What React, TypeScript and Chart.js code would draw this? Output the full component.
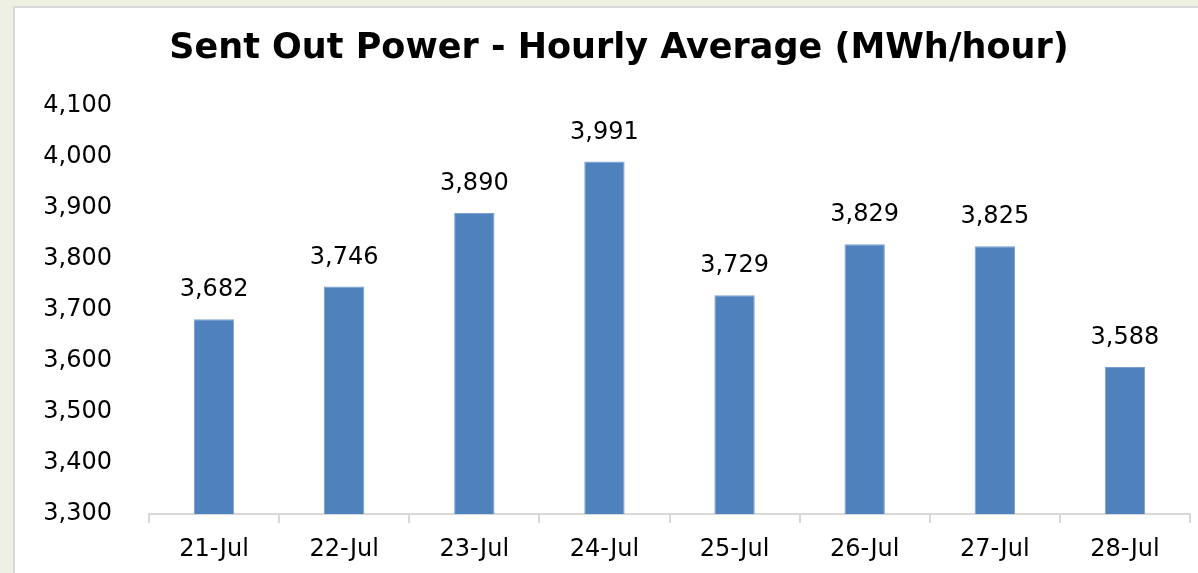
import React, { useEffect, useRef } from "react";
import { Chart, registerables } from "chart.js";

Chart.register(...registerables);

const categories = ["21-Jul", "22-Jul", "23-Jul", "24-Jul", "25-Jul", "26-Jul", "27-Jul", "28-Jul"];
const values = [3682, 3746, 3890, 3991, 3729, 3829, 3825, 3588];
const yMin = 3300;
const yMax = 4100;
const yStep = 100;
const titleText = "Sent Out Power - Hourly Average (MWh/hour)";

const FONT = "'DejaVu Sans', 'Open Sans', sans-serif";

const dataLabels = {
  id: "dataLabels",
  afterLayout(chart: any) {
    if (chart.titleBlock) {
      chart.titleBlock.left = 40;
      chart.titleBlock.right = 1198;
    }
  },
  afterDatasetsDraw(chart: any) {
    const ctx = chart.ctx;
    const meta = chart.getDatasetMeta(0);
    ctx.save();
    ctx.font = `24px ${FONT}`;
    ctx.fillStyle = "#000000";
    ctx.textAlign = "center";
    ctx.textBaseline = "middle";
    meta.data.forEach((el: any, i: number) => {
      const v = chart.data.datasets[0].data[i] as number;
      ctx.fillText(v.toLocaleString("en-US"), el.x, el.y - 29);
    });
    ctx.restore();
  },
};

export default function App() {
  const ref = useRef<HTMLCanvasElement | null>(null);
  useEffect(() => {
    if (!ref.current) return;
    const chart = new Chart(ref.current, {
      type: "bar",
      data: {
        labels: categories,
        datasets: [
          {
            data: values,
            backgroundColor: "#4f81bd",
            borderColor: "#7aa0cf",
            borderWidth: 1,
            barPercentage: 0.31,
            categoryPercentage: 1,
          },
        ],
      },
      options: {
        animation: false,
        responsive: false,
        maintainAspectRatio: false,
        layout: { padding: { left: 14, right: 8, top: 7, bottom: 0 } },
        plugins: {
          legend: { display: false },
          tooltip: { enabled: false },
          title: {
            display: true,
            text: titleText,
            color: "#000000",
            font: { family: FONT, size: 35, weight: "bold" },
            padding: { top: 21, bottom: 36 },
          },
        },
        scales: {
          x: {
            offset: true,
            afterFit(scale: any) {
              scale.height = 59;
            },
            grid: {
              offset: true,
              drawOnChartArea: false,
              drawTicks: true,
              tickLength: 9,
              color: "#d9d9d9",
              lineWidth: 2,
            },
            border: { display: true, color: "#d9d9d9", width: 2 },
            ticks: { color: "#000000", font: { family: FONT, size: 24 }, padding: 12 },
          },
          y: {
            min: yMin,
            max: yMax,
            grid: { display: false },
            border: { display: false },
            afterFit(scale: any) {
              scale.width = 135;
            },
            ticks: {
              stepSize: yStep,
              color: "#000000",
              font: { family: FONT, size: 24 },
              padding: 29,
              callback: (v: any) => Number(v).toLocaleString("en-US"),
            },
          },
        },
      },
      plugins: [dataLabels],
    });
    return () => chart.destroy();
  }, []);

  return (
    <div style={{ position: "fixed", left: 0, top: 0, width: 1198, height: 573, background: "#eef0e3", overflow: "hidden" }}>
      <div
        style={{
          position: "absolute",
          left: 13,
          top: 6,
          right: 0,
          bottom: 0,
          background: "#ffffff",
          borderLeft: "2px solid #d9d9d9",
          borderTop: "2px solid #d9d9d9",
        }}
      />
      <canvas ref={ref} width={1198} height={573} style={{ position: "absolute", left: 0, top: 0 }} />
    </div>
  );
}
